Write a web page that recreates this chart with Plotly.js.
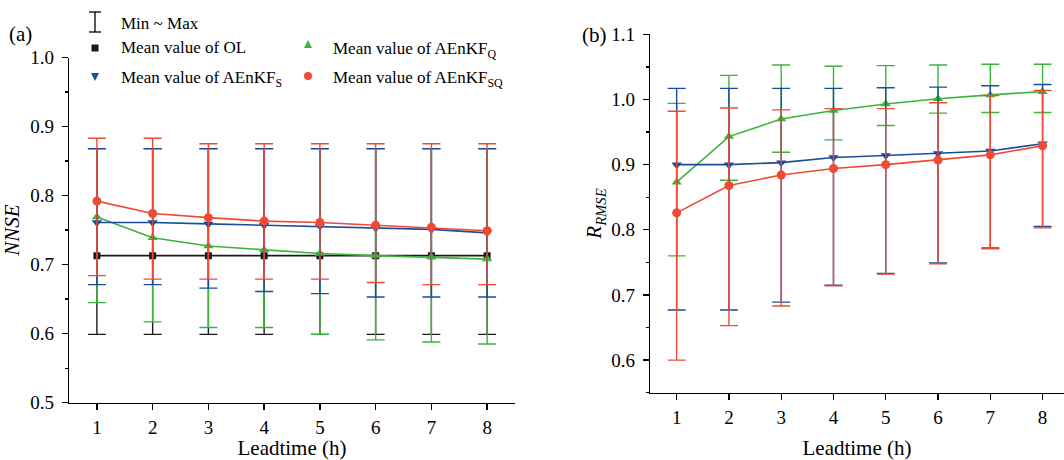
<!DOCTYPE html>
<html>
<head>
<meta charset="utf-8">
<script src="https://cdn.plot.ly/plotly-3.0.1.min.js"></script>
<style>
  html, body { margin: 0; padding: 0; background: #ffffff; }
  #chart { width: 1064px; height: 460px; }
</style>
</head>
<body>
<div id="chart"></div>
<script>
// Lead times (hours)
const leadtime = [1, 2, 3, 4, 5, 6, 7, 8];

// (a) NNSE: mean, minimum and maximum over the events
const nnseOLMean   = [0.713, 0.713, 0.713, 0.713, 0.713, 0.713, 0.713, 0.713];
const nnseOLMin    = [0.599, 0.599, 0.599, 0.599, 0.599, 0.599, 0.599, 0.599];
const nnseOLMax    = [0.868, 0.868, 0.868, 0.868, 0.868, 0.868, 0.868, 0.868];

const nnseQMean    = [0.769, 0.739, 0.727, 0.721, 0.716, 0.713, 0.711, 0.708];
const nnseQMin     = [0.645, 0.617, 0.609, 0.609, 0.599, 0.591, 0.588, 0.585];
const nnseQMax     = [0.868, 0.868, 0.868, 0.868, 0.868, 0.868, 0.868, 0.868];

const nnseSMean    = [0.761, 0.761, 0.759, 0.757, 0.756, 0.753, 0.751, 0.746];
const nnseSMin     = [0.671, 0.671, 0.666, 0.661, 0.658, 0.653, 0.653, 0.653];
const nnseSMax     = [0.868, 0.868, 0.868, 0.868, 0.868, 0.868, 0.868, 0.868];

const nnseSQMean   = [0.792, 0.774, 0.768, 0.763, 0.761, 0.757, 0.754, 0.749];
const nnseSQMin    = [0.684, 0.679, 0.679, 0.679, 0.679, 0.674, 0.671, 0.671];
const nnseSQMax    = [0.883, 0.883, 0.875, 0.875, 0.875, 0.875, 0.875, 0.875];

// (b) R_RMSE: mean, minimum and maximum over the events
const rrmseQMean   = [0.873, 0.943, 0.970, 0.983, 0.993, 1.001, 1.007, 1.012];
const rrmseQMin    = [0.760, 0.876, 0.919, 0.938, 0.960, 0.979, 0.980, 0.980];
const rrmseQMax    = [0.994, 1.037, 1.053, 1.051, 1.052, 1.053, 1.054, 1.054];

const rrmseSMean   = [0.900, 0.900, 0.903, 0.911, 0.914, 0.917, 0.921, 0.932];
const rrmseSMin    = [0.677, 0.677, 0.689, 0.715, 0.733, 0.749, 0.772, 0.805];
const rrmseSMax    = [1.017, 1.017, 1.017, 1.017, 1.018, 1.019, 1.021, 1.023];

const rrmseSQMean  = [0.826, 0.868, 0.884, 0.894, 0.900, 0.907, 0.915, 0.929];
const rrmseSQMin   = [0.600, 0.653, 0.683, 0.714, 0.732, 0.748, 0.771, 0.803];
const rrmseSQMax   = [0.982, 0.987, 0.984, 0.986, 0.986, 0.995, 1.006, 1.014];

// Legend labels
const legendRange = 'Min ~ Max';
const labelOL   = 'Mean value of OL';
const labelQ    = 'Mean value of AEnKF<sub>Q</sub>';
const labelS    = 'Mean value of AEnKF<sub>S</sub>';
const labelSQ   = 'Mean value of AEnKF<sub>SQ</sub>';

const COLORS = { OL: '#1a1a1a', Q: '#3cb43c', S: '#1b4c9b', SQ: '#ef4a33' };
const FONT = 'Liberation Serif';
const W = 1064, H = 460;

function series(mean, lo, hi, color, symbol, size, xa, ya) {
  return {
    x: leadtime, y: mean, xaxis: xa, yaxis: ya,
    type: 'scatter', mode: 'lines+markers',
    line: { color: color, width: 1.6 },
    marker: { color: color, symbol: symbol, size: size },
    error_y: {
      type: 'data', symmetric: false,
      array: hi.map((v, i) => v - mean[i]),
      arrayminus: mean.map((v, i) => v - lo[i]),
      color: color, thickness: 1.4, width: 9
    },
    hoverinfo: 'x+y'
  };
}

const traces = [
  series(nnseOLMean, nnseOLMin, nnseOLMax, COLORS.OL, 'square', 7, 'x', 'y'),
  series(nnseQMean, nnseQMin, nnseQMax, COLORS.Q, 'triangle-up', 9, 'x', 'y'),
  series(nnseSMean, nnseSMin, nnseSMax, COLORS.S, 'triangle-down', 9, 'x', 'y'),
  series(nnseSQMean, nnseSQMin, nnseSQMax, COLORS.SQ, 'circle', 9, 'x', 'y'),
  series(rrmseQMean, rrmseQMin, rrmseQMax, COLORS.Q, 'triangle-up', 9, 'x2', 'y2'),
  series(rrmseSMean, rrmseSMin, rrmseSMax, COLORS.S, 'triangle-down', 9, 'x2', 'y2'),
  series(rrmseSQMean, rrmseSQMin, rrmseSQMax, COLORS.SQ, 'circle', 9, 'x2', 'y2')
];

// pixel -> paper helpers for layout decorations
const px = v => v / W;
const py = v => 1 - v / H;

const baseX = {
  tickvals: leadtime, ticks: 'outside', ticklen: 6, tickwidth: 1.3, tickcolor: '#000',
  showline: true, linewidth: 1.3, linecolor: '#000', mirror: false,
  showgrid: false, zeroline: false, fixedrange: true,
  tickfont: { family: FONT, size: 19, color: '#000' },
  ticklabelstandoff: 1
};
const baseY = {
  dtick: 0.1, tickformat: '.1f', ticks: 'outside', ticklen: 6, tickwidth: 1.3, tickcolor: '#000',
  minor: { dtick: 0.05, ticks: 'outside', ticklen: 3, tickwidth: 1.3, tickcolor: '#000', showgrid: false },
  showline: true, linewidth: 1.3, linecolor: '#000', mirror: false,
  showgrid: false, zeroline: false, fixedrange: true,
  tickfont: { family: FONT, size: 19, color: '#000' },
  ticklabelstandoff: 4
};

const layout = {
  width: W, height: H,
  margin: { l: 0, r: 0, t: 0, b: 0 },
  paper_bgcolor: '#ffffff', plot_bgcolor: '#ffffff',
  showlegend: false,
  font: { family: FONT, size: 18, color: '#000' },
  xaxis: Object.assign({}, baseX, {
    domain: [px(69), px(515)], range: [0.5, 8.5], anchor: 'y',
    title: { text: 'Leadtime (h)', font: { family: FONT, size: 21, color: '#000' }, standoff: 0 }
  }),
  yaxis: Object.assign({}, baseY, {
    domain: [py(402.7), py(57.5)], range: [0.5, 1.0], anchor: 'x',
    title: { text: '<i>NNSE</i>', font: { family: FONT, size: 21, color: '#000' }, standoff: 5 }
  }),
  xaxis2: Object.assign({}, baseX, {
    domain: [px(650), 1], range: [0.49, 8.41], anchor: 'y2',
    title: { text: 'Leadtime (h)', font: { family: FONT, size: 21, color: '#000' }, standoff: 13 }
  }),
  yaxis2: Object.assign({}, baseY, {
    domain: [py(392.7), py(34.3)], range: [0.55, 1.1], anchor: 'x2',
    tickvals: [0.6, 0.7, 0.8, 0.9, 1.0, 1.1],
    title: { text: '<i>R</i><sub><i>RMSE</i></sub>', font: { family: FONT, size: 21, color: '#000' }, standoff: 3 }
  }),
  annotations: [
    { text: '(a)', xref: 'paper', yref: 'paper', x: px(20), y: py(34), xanchor: 'center', yanchor: 'middle',
      showarrow: false, font: { family: FONT, size: 21, color: '#000' } },
    { text: '(b)', xref: 'paper', yref: 'paper', x: px(594), y: py(35), xanchor: 'center', yanchor: 'middle',
      showarrow: false, font: { family: FONT, size: 21, color: '#000' } },
    { text: legendRange, xref: 'paper', yref: 'paper', x: px(119), y: py(23), xanchor: 'left', yanchor: 'middle',
      showarrow: false, font: { family: FONT, size: 17, color: '#000' } },
    { text: labelOL, xref: 'paper', yref: 'paper', x: px(119), y: py(48), xanchor: 'left', yanchor: 'middle',
      showarrow: false, font: { family: FONT, size: 17, color: '#000' } },
    { text: labelS, xref: 'paper', yref: 'paper', x: px(119), y: py(79), xanchor: 'left', yanchor: 'middle',
      showarrow: false, font: { family: FONT, size: 17, color: '#000' } },
    { text: labelQ, xref: 'paper', yref: 'paper', x: px(331), y: py(50), xanchor: 'left', yanchor: 'middle',
      showarrow: false, font: { family: FONT, size: 17, color: '#000' } },
    { text: labelSQ, xref: 'paper', yref: 'paper', x: px(331), y: py(79), xanchor: 'left', yanchor: 'middle',
      showarrow: false, font: { family: FONT, size: 17, color: '#000' } }
  ],
  shapes: [
    // "Min ~ Max" glyph
    { type: 'line', xref: 'paper', yref: 'paper', x0: px(95), x1: px(95), y0: py(12), y1: py(32), line: { color: '#000', width: 1.3 } },
    { type: 'line', xref: 'paper', yref: 'paper', x0: px(89), x1: px(101), y0: py(12), y1: py(12), line: { color: '#000', width: 1.3 } },
    { type: 'line', xref: 'paper', yref: 'paper', x0: px(89), x1: px(101), y0: py(32), y1: py(32), line: { color: '#000', width: 1.3 } },
    // OL square
    { type: 'rect', xref: 'paper', yref: 'paper', x0: px(91.5), x1: px(98.5), y0: py(44.5), y1: py(51.5),
      fillcolor: COLORS.OL, line: { width: 0 } },
    // AEnKF_S triangle-down
    { type: 'path', xref: 'paper', yref: 'paper',
      path: `M ${px(91)} ${py(73)} L ${px(99)} ${py(73)} L ${px(95)} ${py(81)} Z`,
      fillcolor: COLORS.S, line: { width: 0 } },
    // AEnKF_Q triangle-up
    { type: 'path', xref: 'paper', yref: 'paper',
      path: `M ${px(304)} ${py(48)} L ${px(312)} ${py(48)} L ${px(308)} ${py(40)} Z`,
      fillcolor: COLORS.Q, line: { width: 0 } },
    // AEnKF_SQ circle
    { type: 'circle', xref: 'paper', yref: 'paper', x0: px(304), x1: px(312), y0: py(72), y1: py(80),
      fillcolor: COLORS.SQ, line: { width: 0 } }
  ]
};

Plotly.newPlot('chart', traces, layout, { staticPlot: true, displayModeBar: false });
</script>
</body>
</html>
